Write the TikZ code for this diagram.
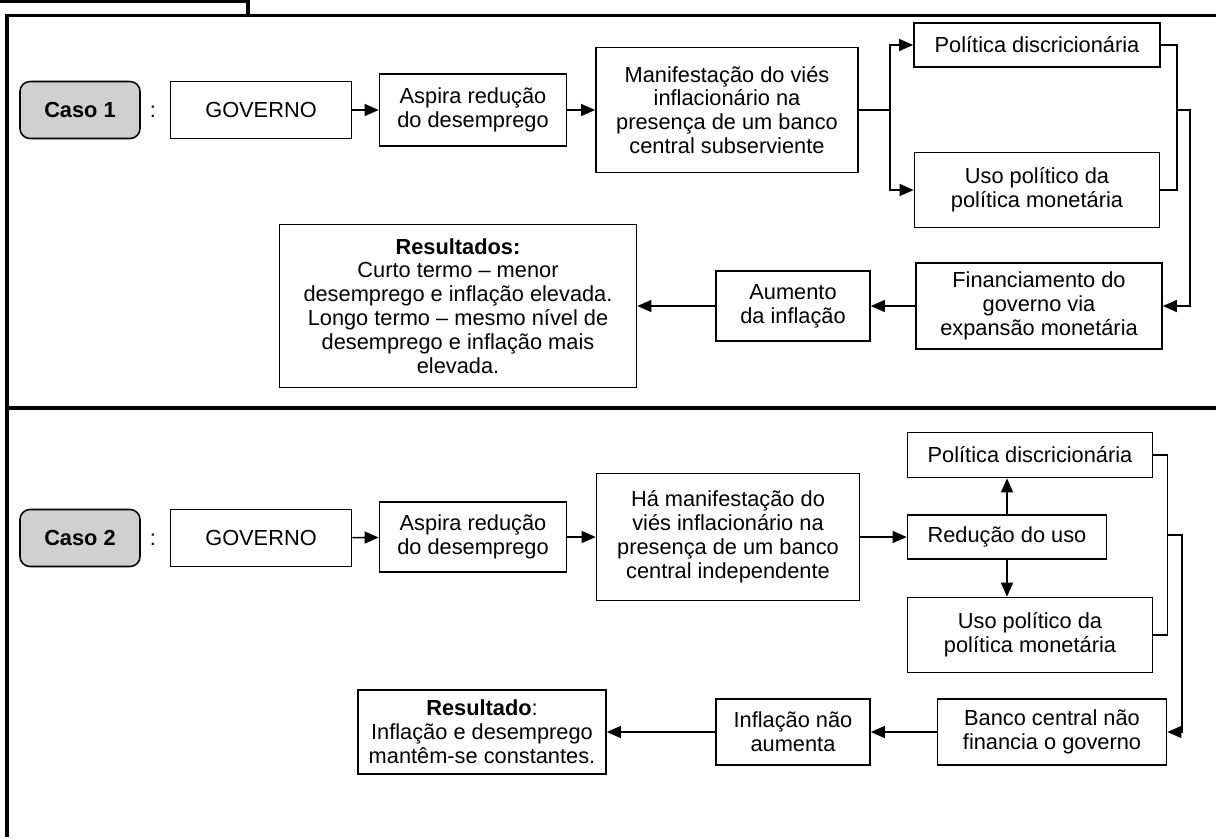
\documentclass[tikz,border=0pt]{standalone}
\usepackage{fontspec}
\setmainfont{Liberation Sans}
\usetikzlibrary{arrows.meta}
\definecolor{casegray}{HTML}{D0D0D0}

\begin{document}
\begin{tikzpicture}[x=0.025cm,y=-0.025cm,
  font=\fontsize{15.5}{17}\selectfont,
  box/.style={draw,line width=1.1pt,fill=white,align=center,inner sep=1pt},
  casebox/.style={draw,line width=1.1pt,fill=casegray,rounded corners=0.25cm,
    minimum width=3cm,minimum height=1.425cm,font=\fontsize{15.5}{17}\selectfont\bfseries},
  arr/.style={line width=1.1pt,-{Triangle[length=10pt,width=8.5pt]}},
  link/.style={line width=1.1pt},
  frame/.style={line width=2.2pt}]
  \useasboundingbox (0,0) rectangle (1216,837);

  % outer frame
  \draw[frame] (0,1.5) -- (248,1.5) -- (248,15.5);
  \draw[frame] (1216,15.5) -- (7,15.5) -- (7,837);
  \draw[frame] (7,408) -- (1216,408);

  % caso 1
  \node[casebox] (caso1) at (80,110) {Caso 1};
  \node (colon1) at (153,112) {:};
  \node[box,minimum width=4.525cm,minimum height=1.425cm] (gov1) at (261,110) {GOVERNO};
  \node[box,minimum width=4.675cm,minimum height=1.8cm] (asp1) at (473,110)
    {Aspira redução\\do desemprego};
  \node[box,minimum width=6.55cm,minimum height=3.125cm] (man1) at (727,110)
    {Manifestação do viés\\inflacionário na\\presença de um banco\\central subserviente};
  \node[box,minimum width=6.15cm,minimum height=1.1cm] (pol1) at (1037,45)
    {Política discricionária};
  \node[box,minimum width=6.125cm,minimum height=1.875cm] (uso1) at (1037,190)
    {Uso político da\\política monetária};
  \node[box,minimum width=6.15cm,minimum height=2.15cm] (fin1) at (1039,306)
    {Financiamento do\\governo via\\expansão monetária};
  \node[box,minimum width=3.85cm,minimum height=1.75cm] (aum1) at (793,306)
    {Aumento\\da inflação};
  \node[box,minimum width=8.925cm,minimum height=4.075cm] (res1) at (458,306)
    {\textbf{Resultados:}\\Curto termo – menor\\desemprego e inflação elevada.\\
     Longo termo – mesmo nível de\\desemprego e inflação mais\\elevada.};

  \draw[arr] (gov1) -- (asp1);
  \draw[arr] (asp1) -- (man1);
  \draw[arr] (man1.east) -- ++(31,0) |- (pol1.west);
  \draw[arr] (man1.east) -- ++(31,0) |- (uso1.west);
  \draw[link] (pol1.east) -- ++(16,0) |- (uso1.east);
  \coordinate (join1) at (1176,110);
  \draw[arr] (join1) -- ++(14,0) |- (fin1.east);
  \draw[arr] (fin1) -- (aum1);
  \draw[arr] (aum1) -- (res1);

  % caso 2
  \node[casebox] (caso2) at (80,538) {Caso 2};
  \node (colon2) at (153,540) {:};
  \node[box,minimum width=4.525cm,minimum height=1.425cm] (gov2) at (261,538) {GOVERNO};
  \node[box,minimum width=4.675cm,minimum height=1.75cm] (asp2) at (473,537)
    {Aspira redução\\do desemprego};
  \node[box,minimum width=6.575cm,minimum height=3.175cm] (man2) at (728,537)
    {Há manifestação do\\viés inflacionário na\\presença de um banco\\central independente};
  \node[box,minimum width=6.125cm,minimum height=1.125cm] (pol2) at (1030,455)
    {Política discricionária};
  \node[box,minimum width=4.975cm,minimum height=1.1cm] (red2) at (1007,537)
    {Redução do uso};
  \node[box,minimum width=6.125cm,minimum height=1.875cm] (uso2) at (1030,635)
    {Uso político da\\política monetária};
  \node[box,minimum width=5.725cm,minimum height=1.65cm] (ban2) at (1052,732)
    {Banco central não\\financia o governo};
  \node[box,minimum width=3.85cm,minimum height=1.65cm] (inf2) at (793,732)
    {Inflação não\\aumenta};
  \node[box,minimum width=6.2cm,minimum height=2.1cm] (res2) at (482,732)
    {\textbf{Resultado}:\\Inflação e desemprego\\mantêm-se constantes.};

  \draw[arr] (gov2) -- (asp2);
  \draw[arr] (asp2) -- (man2);
  \draw[arr] (man2) -- (red2);
  \draw[arr] (red2.north) -- (red2.north |- pol2.south);
  \draw[arr] (red2.south) -- (red2.south |- uso2.north);
  \draw[link] (pol2.east) -- ++(14,0) |- (uso2.east);
  \coordinate (join2) at (1167,535);
  \draw[arr] (join2) -- ++(15,0) |- (ban2.east);
  \draw[arr] (ban2) -- (inf2);
  \draw[arr] (inf2) -- (res2);
\end{tikzpicture}
\end{document}
